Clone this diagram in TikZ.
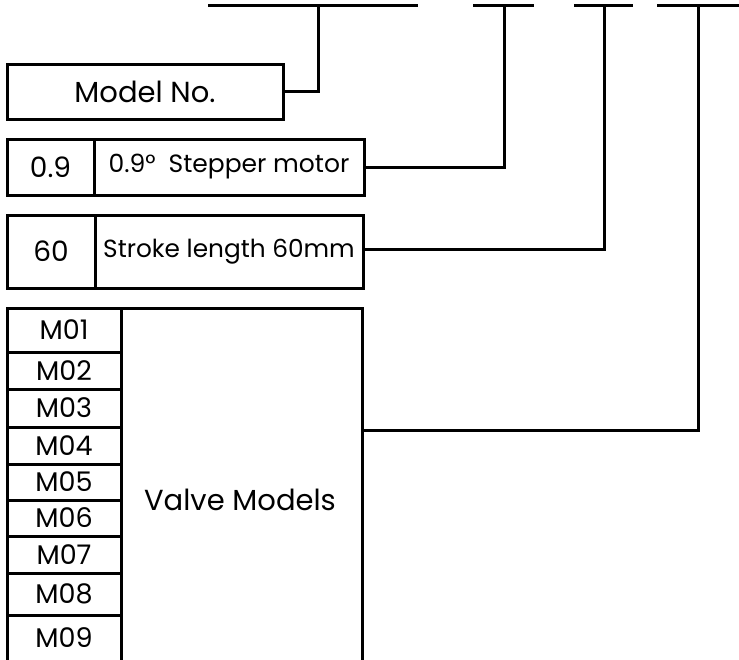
\documentclass[tikz,border=0pt]{standalone}
\usepackage{fontspec}
\setmainfont{Poppins}
\usetikzlibrary{positioning}

\begin{document}
\begin{tikzpicture}[
    x = 1pt, y = -1pt,
    cell/.style = {
        rectangle, draw=black, line width=3pt,
        inner sep = 0pt, outer sep = 0pt,
        anchor = north west,
        font = \fontsize{25}{27}\selectfont
    },
    codecell/.style = { cell, font = \fontsize{28}{30}\selectfont },
    rowcell/.style = {
        cell, minimum width = 114pt,
        font = \fontsize{27}{28}\selectfont
    },
    leader/.style = { line width=3pt },
]
\useasboundingbox (0,0) rectangle (739,659);

%% ── Top code line ────────────────────────────────────────────────────────
\coordinate (t1) at (318,5);
\coordinate (t2) at (504,5);
\coordinate (t3) at (604,5);
\coordinate (t4) at (698,5);

\draw[leader] ([xshift=-110pt]t1) -- ([xshift=100pt]t1);
\draw[leader] ([xshift=-31pt]t2) -- ([xshift=30pt]t2);
\draw[leader] ([xshift=-30pt]t3) -- ([xshift=29pt]t3);
\draw[leader] ([xshift=-41pt]t4) -- ([xshift=41pt]t4);

%% ── Boxes ────────────────────────────────────────────────────────────────
\node[cell, minimum width=276pt, minimum height=55pt,
      font=\fontsize{29}{31}\selectfont] (model) at (7,64) {Model No.};

\node[codecell, minimum width=87pt, minimum height=56pt] (motcode) at (7,139) {0.9};
\node[cell, minimum width=270pt, minimum height=56pt, anchor=north west]
    (motdesc) at (motcode.north east) {0.9°\hspace{13pt}Stepper motor};

\node[codecell, minimum width=88pt, minimum height=73pt] (strcode) at (7,215) {60};
\node[cell, minimum width=268pt, minimum height=73pt, anchor=north west,
      font=\fontsize{24.8}{26}\selectfont]
    (strdesc) at (strcode.north east) {Stroke length 60mm};

%% ── Valve models column ──────────────────────────────────────────────────
\node[rowcell, minimum height=44pt] (m01) at (7,308) {M01};
\node[rowcell, minimum height=37pt, below=0pt of m01.south west, anchor=north west] (m02) {M02};
\node[rowcell, minimum height=38pt, below=0pt of m02.south west, anchor=north west] (m03) {M03};
\node[rowcell, minimum height=37pt, below=0pt of m03.south west, anchor=north west] (m04) {M04};
\node[rowcell, minimum height=36pt, below=0pt of m04.south west, anchor=north west] (m05) {M05};
\node[rowcell, minimum height=36pt, below=0pt of m05.south west, anchor=north west] (m06) {M06};
\node[rowcell, minimum height=37pt, below=0pt of m06.south west, anchor=north west] (m07) {M07};
\node[rowcell, minimum height=42pt, below=0pt of m07.south west, anchor=north west] (m08) {M08};
\node[rowcell, minimum height=46pt, below=0pt of m08.south west, anchor=north west] (m09) {M09};

\node[cell, minimum width=241pt, minimum height=353pt, anchor=north west]
    (valve) at (m01.north east) {};
\node[font=\fontsize{29}{31}\selectfont] (valvetext) at (240,500) {Valve Models};

%% ── Leaders to the code line ────────────────────────────────────────────
\draw[leader] (model.east) -| (t1);
\draw[leader] (motdesc.east) -| (t2);
\draw[leader] (strdesc.east |- 0,249) -| (t3);
\draw[leader] ([yshift=-122pt]valve.north east) -| (t4);

\end{tikzpicture}
\end{document}
